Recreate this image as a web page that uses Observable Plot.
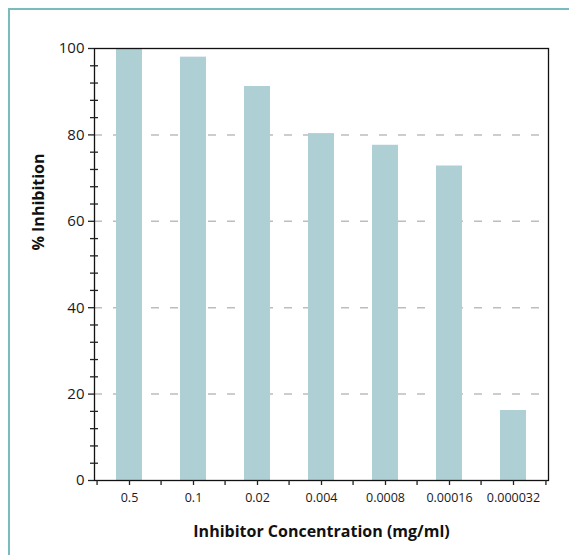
<!DOCTYPE html>
<html>
<head>
<meta charset="utf-8">
<script src="https://cdn.jsdelivr.net/npm/d3@7"></script>
<script src="https://cdn.jsdelivr.net/npm/@observablehq/plot@0.6"></script>
<style>
  html, body { margin: 0; padding: 0; background: #fff; }
  #wrap { position: relative; width: 569px; height: 555px; overflow: hidden; background: #fff; }
  #border { position: absolute; left: 8px; top: 8px; right: 0; bottom: 0; z-index: 2; pointer-events: none;
            border-top: 2px solid #79bbbf; border-left: 2px solid #79bbbf; box-sizing: border-box; }
  #chart { position: absolute; left: 0; top: 0; z-index: 1; }
  svg { font-family: "Open Sans", sans-serif; }
</style>
</head>
<body>
<div id="wrap"><div id="chart"></div><div id="border"></div></div>
<script>
const concentrations = ["0.5", "0.1", "0.02", "0.004", "0.0008", "0.00016", "0.000032"];
const inhibition = [100, 98, 91.2, 80.3, 77.6, 72.8, 16.2];
const gridTicks = [20, 40, 60, 80];
const majorTicks = [0, 20, 40, 60, 80, 100];
const minorTicks = d3.range(0, 101, 4).filter(v => v % 20 !== 0);
const xTitle = "Inhibitor Concentration (mg/ml)";
const yTitle = "% Inhibition";

const data = concentrations.map((c, i) => ({c, v: inhibition[i]}));

const W = 569, H = 555, mL = 94, mR = 21, mT = 48, mB = 75;
const step = (W - mL - mR) / concentrations.length;

const chart = Plot.plot({
  width: W, height: H,
  marginLeft: mL, marginRight: mR, marginTop: mT, marginBottom: mB,
  style: {fontFamily: "Open Sans, sans-serif", background: "transparent"},
  x: {domain: concentrations, paddingInner: 0.6, paddingOuter: 0.3, label: null},
  y: {domain: [0, 100], label: null},
  marks: [
    Plot.gridY(gridTicks, {stroke: "#bdbdbd", strokeOpacity: 1, strokeWidth: 1.5, strokeDasharray: "8,11", x1: null}),
    Plot.barY(data, {x: "c", y: "v", fill: "#aecfd3"}),
    Plot.frame({stroke: "#111", strokeWidth: 1.3}),
    Plot.axisY(majorTicks, {tickSize: 6, tickPadding: 4, fontSize: 15, fill: "#1a1a1a", stroke: "#222", strokeWidth: 1.3, label: null}),
    Plot.axisY(minorTicks, {tickSize: 8, text: null, dx: 4, stroke: "#222", strokeWidth: 1.3, label: null}),
    Plot.axisX(concentrations, {tickSize: 5, tickPadding: 8, fontSize: 12.5, fill: "#1a1a1a", stroke: "#222", strokeWidth: 1.3, label: null}),
    Plot.axisX(concentrations, {tickSize: 5, text: null, dx: -step / 2, stroke: "#222", strokeWidth: 1.3, label: null}),
    Plot.axisX([concentrations[concentrations.length - 1]], {tickSize: 5, text: null, dx: step / 2, stroke: "#222", strokeWidth: 1.3, label: null}),
    Plot.text([xTitle], {frameAnchor: "bottom", dy: 56, fontSize: 16, fontWeight: "bold", fill: "#111"}),
    Plot.text([yTitle], {frameAnchor: "left", dx: -56, dy: -14, rotate: -90, fontSize: 16, fontWeight: "bold", fill: "#111"})
  ]
});
document.getElementById("chart").appendChild(chart);
</script>
</body>
</html>
